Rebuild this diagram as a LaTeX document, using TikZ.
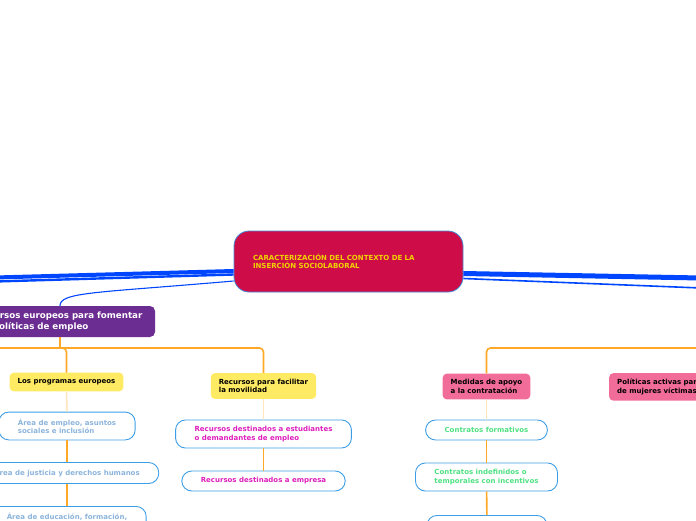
\documentclass[tikz,border=0pt]{standalone}
\usepackage{fontspec}
\setmainfont{DejaVu Sans}
\usepackage{xcolor}

\definecolor{hubred}{RGB}{206,12,72}
\definecolor{hubtext}{RGB}{240,212,0}
\definecolor{hubline}{RGB}{70,140,215}
\definecolor{topicviolet}{RGB}{107,45,145}
\definecolor{subyellow}{RGB}{255,234,100}
\definecolor{subpink}{RGB}{242,108,154}
\definecolor{leafline}{RGB}{61,158,230}
\definecolor{leafblue}{RGB}{140,180,220}
\definecolor{leafmagenta}{RGB}{222,30,188}
\definecolor{leafgreen}{RGB}{80,225,130}
\definecolor{busorange}{RGB}{255,168,40}
\definecolor{linkblue}{RGB}{0,70,255}

\begin{document}
\begin{tikzpicture}[x=1pt, y=-1pt,
  every node/.style={font=\bfseries\fontsize{7}{8.3}\selectfont, align=left},
  hub/.style={fill=hubred, draw=hubline, line width=0.8pt, rounded corners=15,
    text=hubtext, text width=191pt, inner xsep=19pt, minimum height=61pt},
  topic/.style={fill=topicviolet, rounded corners=5, text=white,
    font=\bfseries\fontsize{8.7}{11}\selectfont, text width=168pt,
    inner xsep=11pt, minimum height=31pt},
  subyel/.style={fill=subyellow, rounded corners=4, text=black,
    inner xsep=8pt, inner ysep=6pt, minimum height=18pt},
  subpnk/.style={subyel, fill=subpink},
  leaf/.style={draw=leafline, fill=white, line width=0.9pt, rounded corners=10,
    inner xsep=19pt, inner ysep=6.5pt, minimum height=20pt},
  bus/.style={draw=busorange, line width=1.6pt, rounded corners=4},
  fade/.style={draw=busorange!30, line width=1.6pt},
  thicklink/.style={draw=linkblue, line width=4pt},
  midlink/.style={draw=linkblue, line width=2.4pt},
  thinlink/.style={draw=linkblue, line width=1.1pt}]
\useasboundingbox (0,0) rectangle (696,520);
\clip (0,0) rectangle (696,520);

% central idea
\node[hub] (hub) at (348.5,261.5) {CARACTERIZACIÓN DEL CONTEXTO DE LA\\INSERCIÓN SOCIOLABORAL};

% left branch
\node[topic] (topic) at (60,321.5) {Recursos europeos para fomentar\\las políticas de empleo};
\node[subyel] (progs) at (66.5,382) {Los programas europeos};
\node[subyel] (movil) at (263.5,386) {Recursos para facilitar\\la movilidad};

\node[leaf, text=leafblue] (empleo) at (67,426) {Área de empleo, asuntos\\sociales e inclusión};
\node[leaf, text=leafblue] (justicia) at (67,473) {Área de justicia y derechos humanos};
\node[leaf, text=leafblue, anchor=north] (educ) at (67,506) {Área de educación, formación,\\\strut};

\node[leaf, text=leafmagenta] (estud) at (263.5,434) {Recursos destinados a estudiantes\\o demandantes de empleo};
\node[leaf, text=leafmagenta] (empresa) at (263.5,481) {Recursos destinados a empresa};

% right branch
\node[subpnk] (apoyo) at (486.5,386.5) {Medidas de apoyo\\a la contratación};
\node[subpnk, anchor=north west] (mujeres) at (609,373) {Políticas activas para\\de mujeres víctimas};

\node[leaf, text=leafgreen] (formativos) at (486.5,430) {Contratos formativos};
\node[leaf, text=leafgreen] (indef) at (486.5,477) {Contratos indefinidos o\\temporales con incentivos};
\node[leaf, anchor=north, minimum width=120pt, minimum height=28pt] (otro) at (487,515) {};

% free ends off the page
\coordinate (lfarA) at (-5,277.5);
\coordinate (lfarB) at (-5,281.5);
\coordinate (rfarA) at (701,278);
\coordinate (rfarB) at (701,288);
\coordinate (lbus) at (-10,348);
\coordinate (lrail) at (60,348);
\coordinate (rbus) at (706,348);

% links from the centre
\draw[thicklink] ([yshift=-9.5pt]hub.west) -- (lfarA);
\draw[midlink] ([yshift=-13pt]hub.west) -- (lfarB);
\draw[thinlink] ([yshift=-19.5pt]hub.west) .. controls (95,293) and (60,292) .. (topic.north);
\draw[thicklink, line width=5pt] ([yshift=-12pt]hub.east) -- (rfarA);
\draw[thinlink, line width=1.6pt] ([yshift=-17pt]hub.east) -- (rfarB);

% orange tree
\draw[bus] (topic.south) -- (lrail);
\draw[bus] (lbus) -- (lrail) -| (movil.north);
\draw[bus] (lrail) -| (progs.north);
\draw[bus] (rbus) -| (apoyo.north);

\draw[fade] (progs) -- (empleo);
\draw[bus] (empleo) -- (justicia);
\draw[bus] (justicia) -- (educ);
\draw[fade] (movil) -- (estud);
\draw[bus] (estud) -- (empresa);
\draw[fade] (apoyo) -- (formativos);
\draw[bus] (formativos) -- (indef);
\draw[bus] (indef) -- (otro);
\end{tikzpicture}
\end{document}
